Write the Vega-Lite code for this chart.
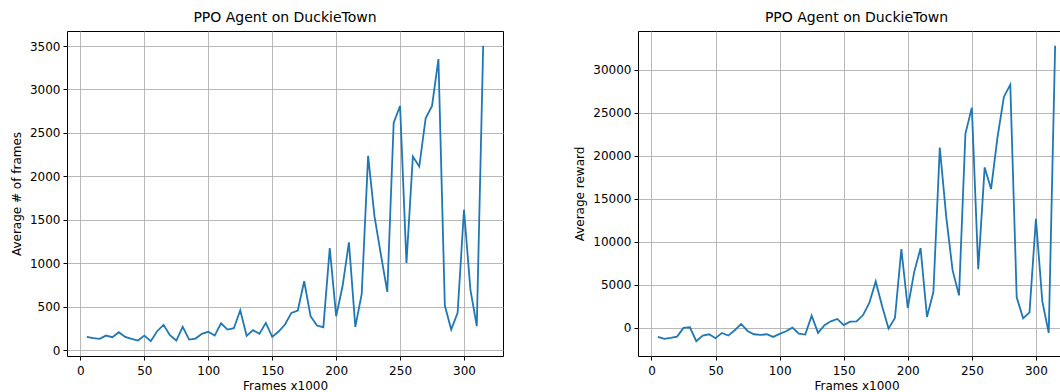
{
  "$schema": "https://vega.github.io/schema/vega-lite/v6.json",
  "padding": {"left": 9, "top": 10, "right": 0, "bottom": 0},
  "autosize": {"type": "pad"},
  "background": "white",
  "data": {"values": [
    {"x": 5, "frames": 153, "reward": -1042},
    {"x": 10, "frames": 138, "reward": -1274},
    {"x": 15, "frames": 130, "reward": -1158},
    {"x": 20, "frames": 168, "reward": -1004},
    {"x": 25, "frames": 149, "reward": 0},
    {"x": 30, "frames": 207, "reward": 77},
    {"x": 35, "frames": 153, "reward": -1544},
    {"x": 40, "frames": 130, "reward": -888},
    {"x": 45, "frames": 111, "reward": -734},
    {"x": 50, "frames": 168, "reward": -1197},
    {"x": 55, "frames": 103, "reward": -579},
    {"x": 60, "frames": 218, "reward": -888},
    {"x": 65, "frames": 291, "reward": -270},
    {"x": 70, "frames": 172, "reward": 463},
    {"x": 75, "frames": 111, "reward": -347},
    {"x": 80, "frames": 268, "reward": -734},
    {"x": 85, "frames": 122, "reward": -811},
    {"x": 90, "frames": 134, "reward": -734},
    {"x": 95, "frames": 188, "reward": -1042},
    {"x": 100, "frames": 211, "reward": -695},
    {"x": 105, "frames": 168, "reward": -386},
    {"x": 110, "frames": 310, "reward": 39},
    {"x": 115, "frames": 237, "reward": -656},
    {"x": 120, "frames": 253, "reward": -772},
    {"x": 125, "frames": 459, "reward": 1429},
    {"x": 130, "frames": 165, "reward": -579},
    {"x": 135, "frames": 230, "reward": 309},
    {"x": 140, "frames": 188, "reward": 772},
    {"x": 145, "frames": 314, "reward": 1042},
    {"x": 150, "frames": 153, "reward": 330},
    {"x": 155, "frames": 215, "reward": 734},
    {"x": 160, "frames": 295, "reward": 772},
    {"x": 165, "frames": 429, "reward": 1467},
    {"x": 170, "frames": 456, "reward": 2896},
    {"x": 175, "frames": 793, "reward": 5405},
    {"x": 180, "frames": 391, "reward": 2510},
    {"x": 185, "frames": 283, "reward": -77},
    {"x": 190, "frames": 264, "reward": 1158},
    {"x": 195, "frames": 1175, "reward": 9151},
    {"x": 200, "frames": 391, "reward": 2317},
    {"x": 205, "frames": 735, "reward": 6486},
    {"x": 210, "frames": 1240, "reward": 9266},
    {"x": 215, "frames": 268, "reward": 1274},
    {"x": 220, "frames": 647, "reward": 4170},
    {"x": 225, "frames": 2236, "reward": 20965},
    {"x": 230, "frames": 1539, "reward": 12934},
    {"x": 235, "frames": 1099, "reward": 6680},
    {"x": 240, "frames": 670, "reward": 3784},
    {"x": 245, "frames": 2619, "reward": 22587},
    {"x": 250, "frames": 2810, "reward": 25598},
    {"x": 255, "frames": 1003, "reward": 6834},
    {"x": 260, "frames": 2228, "reward": 18649},
    {"x": 265, "frames": 2113, "reward": 16139},
    {"x": 270, "frames": 2668, "reward": 22124},
    {"x": 275, "frames": 2810, "reward": 26834},
    {"x": 280, "frames": 3350, "reward": 28263},
    {"x": 285, "frames": 513, "reward": 3552},
    {"x": 290, "frames": 237, "reward": 1120},
    {"x": 295, "frames": 429, "reward": 1815},
    {"x": 300, "frames": 1616, "reward": 12664},
    {"x": 305, "frames": 697, "reward": 3089},
    {"x": 310, "frames": 276, "reward": -579},
    {"x": 315, "frames": 3503, "reward": 32780}
  ]},
  "bounds": "flush",
  "spacing": 135,
  "hconcat": [
    {
      "width": 436,
      "height": 325,
      "title": "PPO Agent on DuckieTown",
      "mark": {"type": "line", "color": "#1f77b4", "strokeWidth": 1.8},
      "encoding": {
        "x": {"field": "x", "type": "quantitative", "title": "Frames x1000",
              "scale": {"domain": [-10.5, 330.5], "nice": false, "zero": false},
              "axis": {"values": [0, 50, 100, 150, 200, 250, 300]}},
        "y": {"field": "frames", "type": "quantitative", "title": "Average # of frames",
              "scale": {"domain": [-67, 3673], "nice": false, "zero": false},
              "axis": {"values": [0, 500, 1000, 1500, 2000, 2500, 3000, 3500]}}
      }
    },
    {
      "width": 437,
      "height": 325,
      "title": "PPO Agent on DuckieTown",
      "mark": {"type": "line", "color": "#1f77b4", "strokeWidth": 1.8},
      "encoding": {
        "x": {"field": "x", "type": "quantitative", "title": "Frames x1000",
              "scale": {"domain": [-10.5, 330.5], "nice": false, "zero": false},
              "axis": {"values": [0, 50, 100, 150, 200, 250, 300]}},
        "y": {"field": "reward", "type": "quantitative", "title": "Average reward",
              "scale": {"domain": [-3260, 34496], "nice": false, "zero": false},
              "axis": {"values": [0, 5000, 10000, 15000, 20000, 25000, 30000]}}
      }
    }
  ],
  "config": {
    "font": "DejaVu Sans",
    "view": {"stroke": "black", "strokeWidth": 1},
    "title": {"font": "DejaVu Sans", "fontSize": 14, "fontWeight": "normal", "color": "black", "offset": 6},
    "axis": {
      "domain": false,
      "grid": true,
      "gridColor": "#b0b0b0",
      "gridWidth": 0.9,
      "gridOpacity": 1,
      "ticks": true,
      "tickColor": "black",
      "tickSize": 4,
      "tickWidth": 1,
      "labelFont": "DejaVu Sans",
      "labelFontSize": 12,
      "labelColor": "black",
      "labelPadding": 3,
      "labelFlush": false,
      "labelOverlap": false,
      "format": "d",
      "titleFont": "DejaVu Sans",
      "titleFontSize": 12,
      "titleFontWeight": "normal",
      "titleColor": "black"
    },
    "axisY": {"titlePadding": 6},
    "axisX": {"titlePadding": 4, "labelPadding": 5}
  }
}
